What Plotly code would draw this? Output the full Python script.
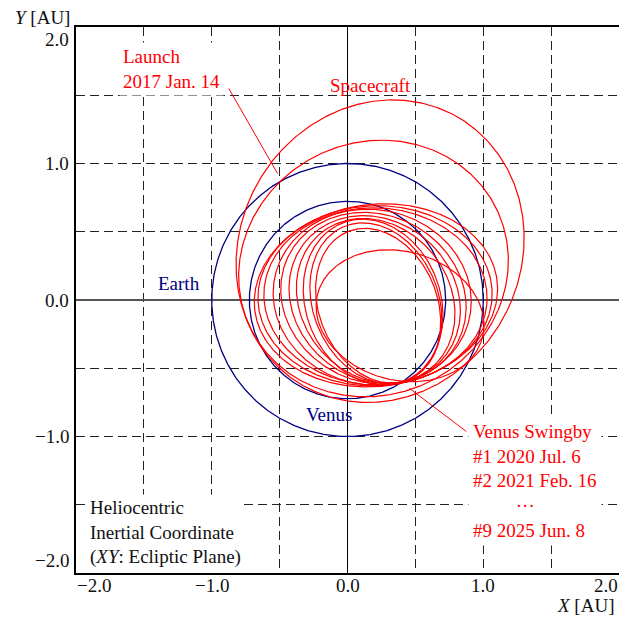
import numpy as np
import plotly.graph_objects as go

# ---------------- data ----------------
earth_radius = 1.0          # AU
venus_radius = 0.723        # AU

# Each spacecraft loop: points read where it crosses the axes (left / top / right / bottom)
# plus one more point on it; loops 0-1 are the outer (Earth) loops, 2-12 the Venus-resonant loops.
loop_x_left   = [-0.816, -0.800, -0.64, -0.62, -0.58, -0.53, -0.48, -0.43, -0.38, -0.34, -0.29, -0.25, -0.21]
loop_y_top    = [ 1.450,  1.155,  0.715, 0.705, 0.69, 0.67, 0.64, 0.60, 0.57, 0.53, 0.50, 0.45, 0.32]
loop_x_right  = [ 1.220,  1.160,  1.14, 1.10, 1.06, 0.93, 0.88, 0.82, 0.77, 0.65, 0.64, 0.63, 0.98]
loop_y_bottom = [-0.710, -0.690, -0.68, -0.66, -0.64, -0.62, -0.58, -0.54, -0.51, -0.48, -0.43, -0.40, -0.45]
loop_x_extra  = [-0.50, -0.50, 0.43, 0.43, 0.43, 0.43, 0.43, 0.43, 0.43, 0.43, 0.43, 0.43, 0.43]
loop_y_extra  = [ 1.07,  0.86, -0.595, -0.595, -0.595, -0.595, -0.595, -0.595, -0.595, -0.595, -0.595, -0.595, -0.595]

# further points read on some loops (loop index, x, y)
more_loop_id = [0, 0, 0, 0, 0, 1, 1, 1, 12, 12, 12, 12,
                2, 3, 4, 5, 6, 7, 8, 9, 10, 11]
more_x       = [-0.79, 0.29, 1.00, 1.28, 1.19, 0.21, 1.00, 1.17, 0.24, 0.75, -0.15, 0.07,
                0.50, 0.50, 0.50, 0.50, 0.50, 0.50, 0.50, 0.50, 0.50, 0.50]
more_y       = [ 0.58, 1.485, 1.165, 0.43, -0.10, 1.18, 0.80, 0.24, 0.36, 0.21, -0.25, -0.52,
                0.62, 0.60, 0.58, 0.56, 0.53, 0.51, 0.48, 0.46, 0.42, 0.38]

launch_point  = (-0.515, 0.926)
launch_label  = (-0.875, 1.55)
swingby_point = (0.456, -0.647)
swingby_label = (0.875, -0.963)

x_tick_vals = [-2.0, -1.0, 0.0, 1.0, 2.0]
x_tick_text = ["\u22122.0", "\u22121.0", "0.0", "1.0", "2.0"]
y_tick_vals = [-2.0, -1.0, 0.0, 1.0, 2.0]
y_tick_text = ["\u22122.0", "\u22121.0", "0.0", "1.0", "2.0"]
grid_vals = [-1.5, -1.0, -0.5, 0.5, 1.0, 1.5]

FONT = "Liberation Serif"
FS = 19
RED = "#ff0000"
NAVY = "#000080"


def conic_loop(xs, ys, ws):
    """Ellipse (weighted least-squares conic) through the points, sampled by angle from the Sun."""
    M = np.array([[w * x * x, w * x * y, w * y * y, w * x, w * y] for x, y, w in zip(xs, ys, ws)])
    A, B, C, D, E = np.linalg.lstsq(M, np.array(ws, dtype=float), rcond=None)[0]
    th = np.linspace(0, 2 * np.pi, 721)
    c, s = np.cos(th), np.sin(th)
    q2 = A * c * c + B * c * s + C * s * s
    q1 = D * c + E * s
    r = (-q1 + np.sqrt(q1 * q1 + 4 * q2)) / (2 * q2)
    return r * c, r * s


fig = go.Figure()

th = np.linspace(0, 2 * np.pi, 721)
for rad in (earth_radius, venus_radius):
    fig.add_trace(go.Scatter(x=rad * np.cos(th), y=rad * np.sin(th), mode="lines",
                             line=dict(color=NAVY, width=1.3), hoverinfo="skip", showlegend=False))

sx, sy = [], []
for i in range(len(loop_x_left)):
    px = [loop_x_left[i], 0.0, loop_x_right[i], 0.0, loop_x_extra[i]]
    py = [0.0, loop_y_top[i], 0.0, loop_y_bottom[i], loop_y_extra[i]]
    pw = [1.0, 1.0, 1.0, 1.0, 3.0]
    for j, k in enumerate(more_loop_id):
        if k == i:
            px.append(more_x[j])
            py.append(more_y[j])
            pw.append(1.0)
    lx, ly = conic_loop(px, py, pw)
    sx += list(lx) + [None]
    sy += list(ly) + [None]
fig.add_trace(go.Scatter(x=sx, y=sy, mode="lines", line=dict(color=RED, width=1.2),
                         hoverinfo="skip", showlegend=False))

# leader lines
for (x0, y0), (x1, y1) in ((launch_label, launch_point), (swingby_label, swingby_point)):
    fig.add_shape(type="line", xref="x", yref="y", x0=x0, y0=y0, x1=x1, y1=y1,
                  line=dict(color=RED, width=1))

ann = []
fblack = dict(family=FONT, size=FS, color="#111111")
fred = dict(family=FONT, size=FS, color=RED)
fnavy = dict(family=FONT, size=FS, color=NAVY)
# labels (white boxes hide the grid behind them)
ann.append(dict(x=0.020, y=0.0733, xref="paper", yref="paper",
                text="Heliocentric<br>Inertial Coordinate<br>(<i>XY</i>: Ecliptic Plane)",
                showarrow=False, xanchor="left", yanchor="middle", align="left",
                bgcolor="white", borderpad=2, font=fblack))
ann.append(dict(x=-1.68, y=1.692, xref="x", yref="y", text="Launch<br>2017 Jan. 14",
                showarrow=False, xanchor="left", yanchor="middle", align="left",
                bgcolor="white", borderpad=3, font=fred))
ann.append(dict(x=0.884, y=-1.326, xref="x", yref="y",
                text="Venus Swingby<br>#1 2020 Jul. 6<br>#2 2021 Feb. 16<br>"
                     + "\u00a0" * 9 + "\u00b7\u00b7\u00b7<br>#9 2025 Jun. 8",
                showarrow=False, xanchor="left", yanchor="middle", align="left",
                bgcolor="white", borderpad=4, font=fred))
ann.append(dict(x=0.17, y=1.568, xref="x", yref="y", text="Spacecraft", showarrow=False, font=fred))
ann.append(dict(x=-1.24, y=0.12, xref="x", yref="y", text="Earth", showarrow=False, font=fnavy))
ann.append(dict(x=-0.14, y=-0.84, xref="x", yref="y", text="Venus", showarrow=False, font=fnavy))
# axis titles
ann.append(dict(x=-0.116, y=1.018, xref="paper", yref="paper", text="<i>Y</i> [AU]", showarrow=False,
                xanchor="left", yanchor="middle", font=fblack))
ann.append(dict(x=0.9926, y=-0.0604, xref="paper", yref="paper", text="<i>X</i> [AU]", showarrow=False,
                xanchor="right", yanchor="middle", borderpad=0, font=fblack))
# tick labels (drawn last, on top)
for v, t in zip(x_tick_vals, x_tick_text):
    anchor = "left" if v == x_tick_vals[0] else ("right" if v == x_tick_vals[-1] else "center")
    ann.append(dict(x=v, y=0, xref="x", yref="paper", text=t, showarrow=False, xanchor=anchor,
                    yanchor="top", yshift=-1, borderpad=0, font=fblack))
for v, t in zip(y_tick_vals, y_tick_text):
    anchor = "bottom" if v == y_tick_vals[0] else ("top" if v == y_tick_vals[-1] else "middle")
    ann.append(dict(x=0, y=v, xref="paper", yref="y", text=t, showarrow=False, xanchor="right",
                    yanchor=anchor, xshift=-5, font=fblack))

axis_common = dict(range=[-2, 2], tickvals=grid_vals, showticklabels=False, ticks="",
                   showgrid=True, gridcolor="#222222", gridwidth=1, griddash="9px,5px",
                   showline=True, linecolor="black", linewidth=1.5, zeroline=True)

fig.update_layout(
    width=619, height=617,
    margin=dict(l=76, r=0, t=27, b=44),
    paper_bgcolor="white", plot_bgcolor="white",
    xaxis=dict(**axis_common, mirror=True, zerolinecolor="black", zerolinewidth=1.3),
    yaxis=dict(**axis_common, mirror=False, zerolinecolor="#555555", zerolinewidth=1.6),
    annotations=ann,
    showlegend=False,
)

fig.write_html("out.html")
